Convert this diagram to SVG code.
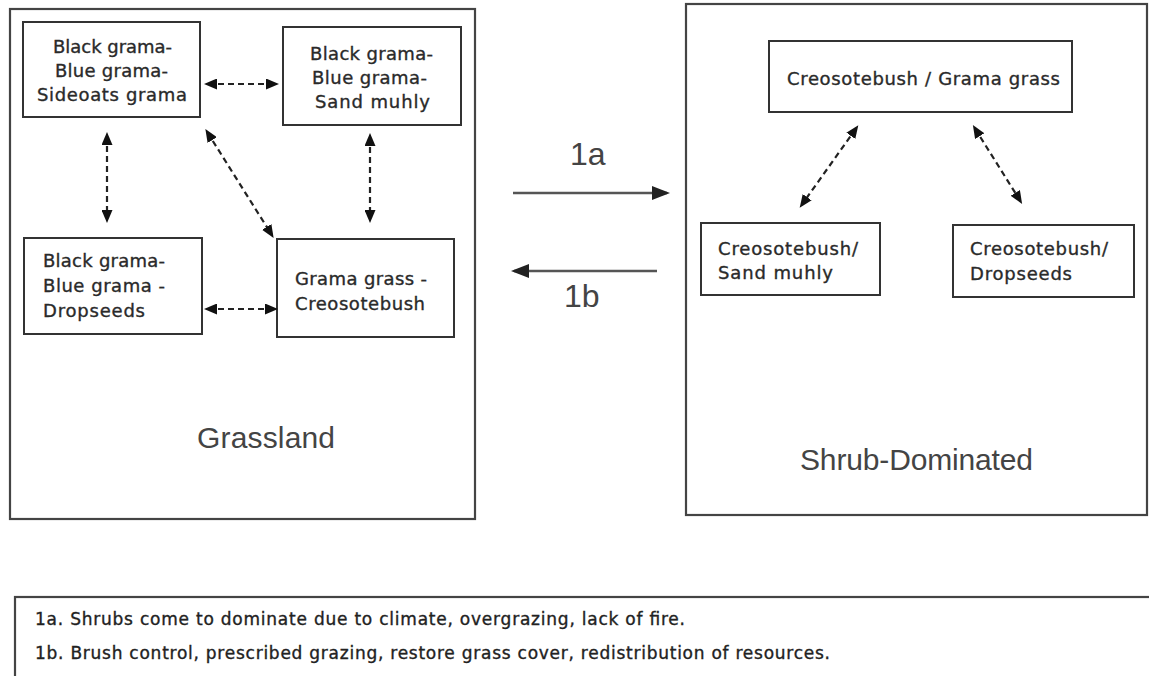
<svg xmlns="http://www.w3.org/2000/svg" width="1149" height="676" viewBox="0 0 1149 676">
<style>
  .frame { fill: #ffffff; stroke: #444; stroke-width: 2.2; }
  .box { fill: #ffffff; stroke: #333; stroke-width: 2; }
  .t { font-family: "DejaVu Sans", Verdana, sans-serif; font-size: 18px; fill: #2a2a2a; stroke: #2a2a2a; stroke-width: 0.35; }
  .big { font-family: "Liberation Sans", Arial, sans-serif; font-size: 30px; fill: #444; }
  .note { font-family: "DejaVu Sans", Verdana, sans-serif; font-size: 17px; fill: #222; stroke: #222; stroke-width: 0.35; }
  .dash { stroke: #222; stroke-width: 2.2; stroke-dasharray: 6 4; fill: none; marker-start: url(#ah); marker-end: url(#ah); }
  .main { stroke: #555; stroke-width: 2.5; fill: none; marker-end: url(#bh); }
</style>
<defs>
  <marker id="ah" viewBox="0 0 13 11" refX="9" refY="5.5" markerWidth="13" markerHeight="11" markerUnits="userSpaceOnUse" orient="auto-start-reverse">
    <path d="M0,0 L13,5.5 L0,11 Z" fill="#111"/>
  </marker>
  <marker id="bh" viewBox="0 0 18 14" refX="15" refY="7" markerWidth="18" markerHeight="14" markerUnits="userSpaceOnUse" orient="auto">
    <path d="M0,0 L18,7 L0,14 Z" fill="#222"/>
  </marker>
</defs>
<rect x="0" y="0" width="1149" height="676" fill="#ffffff"/>

<g id="grassland">
  <rect class="frame" x="10" y="9" width="465" height="510"/>
  <text class="big" x="197" y="448" textLength="138">Grassland</text>
</g>
<g id="shrub-dominated">
  <rect class="frame" x="686" y="4" width="461" height="511"/>
  <text class="big" x="800" y="470" textLength="233">Shrub-Dominated</text>
</g>

<g id="n-sideoats">
  <rect class="box" x="23" y="22" width="177" height="95"/>
  <text class="t" x="53" y="53" textLength="119">Black grama-</text>
  <text class="t" x="55" y="77" textLength="113">Blue grama-</text>
  <text class="t" x="37" y="101" textLength="150">Sideoats grama</text>
</g>
<g id="n-sandmuhly">
  <rect class="box" x="283" y="27" width="178" height="98"/>
  <text class="t" x="310" y="60" textLength="123">Black grama-</text>
  <text class="t" x="312" y="84" textLength="115">Blue grama-</text>
  <text class="t" x="315" y="108" textLength="115">Sand muhly</text>
</g>
<g id="n-dropseeds">
  <rect class="box" x="24" y="238" width="178" height="96"/>
  <text class="t" x="43" y="267" textLength="122">Black grama-</text>
  <text class="t" x="43" y="292" textLength="122">Blue grama -</text>
  <text class="t" x="43" y="317" textLength="102">Dropseeds</text>
</g>
<g id="n-gramacreosote">
  <rect class="box" x="277" y="239" width="177" height="98"/>
  <text class="t" x="295" y="285" textLength="132">Grama grass -</text>
  <text class="t" x="295" y="310" textLength="130">Creosotebush</text>
</g>
<g id="n-creosote-grama">
  <rect class="box" x="769" y="41" width="303" height="71"/>
  <text class="t" x="787" y="85" textLength="273">Creosotebush / Grama grass</text>
</g>
<g id="n-creosote-sand">
  <rect class="box" x="701" y="223" width="179" height="72"/>
  <text class="t" x="718" y="255" textLength="140">Creosotebush/</text>
  <text class="t" x="718" y="279" textLength="115">Sand muhly</text>
</g>
<g id="n-creosote-drop">
  <rect class="box" x="953" y="225" width="181" height="72"/>
  <text class="t" x="970" y="255" textLength="138">Creosotebush/</text>
  <text class="t" x="970" y="280" textLength="102">Dropseeds</text>
</g>

<g id="connectors">
  <line class="dash" x1="208" y1="84" x2="275" y2="84"/>
  <line class="dash" x1="107" y1="136" x2="107" y2="219"/>
  <line class="dash" x1="207.5" y1="132.5" x2="271.5" y2="234.5"/>
  <line class="dash" x1="370" y1="137" x2="370" y2="219"/>
  <line class="dash" x1="208" y1="309" x2="274" y2="309"/>
  <line class="dash" x1="856" y1="128.5" x2="802" y2="204.5"/>
  <line class="dash" x1="975" y1="128.5" x2="1020" y2="200.5"/>
  <line class="main" x1="513" y1="193" x2="667" y2="193"/>
  <line class="main" x1="657" y1="271" x2="514" y2="271"/>
  <text class="big" x="570" y="165" style="font-size:32px">1a</text>
  <text class="big" x="564" y="307" style="font-size:32px">1b</text>
</g>

<g id="legend">
  <rect class="frame" x="15" y="597" width="1160" height="100"/>
  <text class="note" x="35" y="625" textLength="650">1a. Shrubs come to dominate due to climate, overgrazing, lack of fire.</text>
  <text class="note" x="35" y="659" textLength="795">1b. Brush control, prescribed grazing, restore grass cover, redistribution of resources.</text>
</g>
</svg>
